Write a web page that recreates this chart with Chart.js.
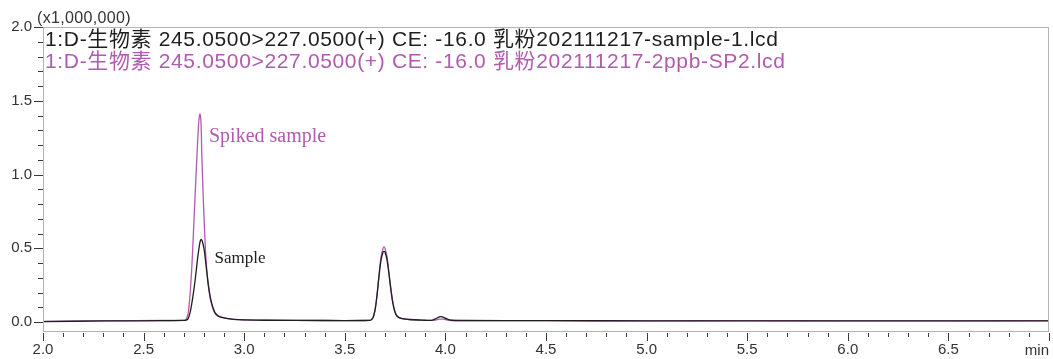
<!DOCTYPE html>
<html>
<head>
<meta charset="utf-8">
<script src="https://cdn.jsdelivr.net/npm/chart.js@4.4.0/dist/chart.umd.min.js"></script>
<style>
  html, body { margin: 0; padding: 0; background: #fff; }
  #wrap { position: relative; width: 1053px; height: 359px; }
</style>
</head>
<body>
<div id="wrap"><canvas id="chrom"></canvas></div>
<script>
// retention time (min) and intensity (x1,000,000)
const sampleTime = [2.00, 2.30, 2.60, 2.70, 2.71, 2.72, 2.73, 2.74, 2.75, 2.76, 2.77, 2.78, 2.785, 2.79, 2.80, 2.81, 2.82, 2.83, 2.84, 2.85, 2.86, 2.88, 2.92, 2.97, 3.10, 3.40, 3.60, 3.62, 3.63, 3.64, 3.65, 3.66, 3.67, 3.68, 3.69, 3.695, 3.70, 3.71, 3.72, 3.73, 3.74, 3.75, 3.76, 3.78, 3.82, 3.88, 3.93, 3.95, 3.97, 3.98, 3.99, 4.01, 4.03, 4.10, 4.50, 5.00, 5.50, 6.00, 6.50, 7.00];
const sampleValue = [0.004, 0.008, 0.010, 0.012, 0.013, 0.020, 0.060, 0.130, 0.220, 0.330, 0.450, 0.540, 0.560, 0.555, 0.500, 0.390, 0.270, 0.180, 0.120, 0.080, 0.055, 0.035, 0.024, 0.017, 0.013, 0.011, 0.011, 0.012, 0.015, 0.030, 0.080, 0.180, 0.310, 0.420, 0.475, 0.480, 0.475, 0.420, 0.320, 0.210, 0.120, 0.065, 0.040, 0.025, 0.018, 0.014, 0.012, 0.022, 0.035, 0.037, 0.033, 0.020, 0.013, 0.011, 0.010, 0.009, 0.009, 0.009, 0.009, 0.009];

const spikedTime = [2.00, 2.30, 2.60, 2.70, 2.71, 2.72, 2.725, 2.73, 2.74, 2.75, 2.76, 2.77, 2.775, 2.78, 2.785, 2.79, 2.80, 2.81, 2.82, 2.83, 2.84, 2.85, 2.86, 2.88, 2.92, 2.97, 3.10, 3.40, 3.60, 3.62, 3.63, 3.64, 3.65, 3.66, 3.67, 3.68, 3.69, 3.695, 3.70, 3.71, 3.72, 3.73, 3.74, 3.75, 3.76, 3.78, 3.82, 3.88, 3.93, 3.95, 3.97, 3.99, 4.01, 4.03, 4.10, 4.50, 5.00, 5.50, 6.00, 6.50, 7.00];
const spikedValue = [0.005, 0.009, 0.011, 0.012, 0.015, 0.050, 0.100, 0.170, 0.380, 0.680, 0.980, 1.260, 1.370, 1.410, 1.360, 1.100, 0.720, 0.430, 0.270, 0.170, 0.110, 0.070, 0.050, 0.035, 0.024, 0.017, 0.013, 0.011, 0.011, 0.012, 0.015, 0.030, 0.080, 0.185, 0.320, 0.440, 0.500, 0.510, 0.500, 0.440, 0.330, 0.215, 0.125, 0.068, 0.042, 0.026, 0.018, 0.014, 0.012, 0.013, 0.020, 0.020, 0.013, 0.011, 0.010, 0.010, 0.009, 0.010, 0.009, 0.009, 0.010];

const xTickLabels = ['2.0', '2.5', '3.0', '3.5', '4.0', '4.5', '5.0', '5.5', '6.0', '6.5'];
const yTickLabels = ['0.0', '0.5', '1.0', '1.5', '2.0'];

const headerLines = [
  { text: '1:D-生物素 245.0500>227.0500(+) CE: -16.0 乳粉202111217-sample-1.lcd', color: '#1e1e1e' },
  { text: '1:D-生物素 245.0500>227.0500(+) CE: -16.0 乳粉202111217-2ppb-SP2.lcd', color: '#b05ab0' }
];
const peakNotes = [
  { text: 'Spiked sample', x: 2.825, y: 1.22, color: '#b05ab0', size: 20 },
  { text: 'Sample', x: 2.853, y: 0.40, color: '#1e1e1e', size: 17 }
];

const SANS = '"Liberation Sans", Arial, "Noto Sans CJK SC", sans-serif';
const SERIF = '"Liberation Serif", "Times New Roman", serif';
const AXIS_GREY = '#b4b4b4';
const TICK_DARK = '#3a3a3a';

function toPoints(xs, ys) {
  return xs.map((x, i) => ({ x, y: ys[i] }));
}

function tenths(from, to) {
  const out = [];
  for (let k = Math.round(from * 10); k <= Math.round(to * 10); k++) out.push({ value: k / 10 });
  return out;
}

const isMajor = (v) => Math.round(v * 10) % 5 === 0;

// frame, tick marks and free text (header, unit, peak labels)
const chromDecor = {
  id: 'chromDecor',
  afterDraw(chart) {
    const { ctx, chartArea: a, scales } = chart;
    ctx.save();
    ctx.strokeStyle = AXIS_GREY;
    ctx.lineWidth = 1;
    ctx.strokeRect(a.left + 0.5, a.top + 0.5, a.right - a.left - 1, a.bottom - a.top);

    ctx.strokeStyle = TICK_DARK;
    ctx.beginPath();
    scales.x.ticks.forEach((t) => {
      const px = Math.round(scales.x.getPixelForValue(t.value)) + 0.5;
      ctx.moveTo(px, a.bottom + 2);
      ctx.lineTo(px, a.bottom + (isMajor(t.value) ? 10 : 6));
    });
    scales.y.ticks.forEach((t) => {
      const py = Math.round(scales.y.getPixelForValue(t.value)) + 0.5;
      ctx.moveTo(a.left, py);
      ctx.lineTo(a.left - (isMajor(t.value) ? 9 : 5), py);
    });
    ctx.stroke();

    ctx.fillStyle = '#333';
    ctx.font = '15px ' + SANS;
    ctx.textAlign = 'right';
    ctx.textBaseline = 'alphabetic';
    ctx.fillText('min', a.right, 355);
    ctx.textAlign = 'left';
    ctx.font = '16px ' + SANS;
    ctx.letterSpacing = '0.35px';
    ctx.fillText('(x1,000,000)', 37, 23);

    ctx.font = '21px ' + SANS;
    ctx.letterSpacing = '0.65px';
    headerLines.forEach((h, i) => {
      ctx.fillStyle = h.color;
      ctx.fillText(h.text, 45, 46 + i * 22);
    });
    ctx.letterSpacing = '0px';

    peakNotes.forEach((n) => {
      ctx.fillStyle = n.color;
      ctx.font = n.size + 'px ' + SERIF;
      ctx.fillText(n.text, scales.x.getPixelForValue(n.x), scales.y.getPixelForValue(n.y));
    });
    ctx.restore();
  }
};

new Chart(document.getElementById('chrom'), {
  type: 'line',
  data: {
    datasets: [
      {
        label: 'Sample',
        data: toPoints(sampleTime, sampleValue),
        borderColor: '#1e1e1e',
        borderWidth: 1.3,
        pointRadius: 0,
        tension: 0.35,
        fill: false
      },
      {
        label: 'Spiked sample',
        data: toPoints(spikedTime, spikedValue),
        borderColor: '#b05ab0',
        borderWidth: 1.3,
        pointRadius: 0,
        tension: 0.35,
        fill: false
      }
    ]
  },
  options: {
    responsive: true,
    maintainAspectRatio: false,
    animation: false,
    layout: { padding: { top: 27, right: 3, left: 0, bottom: 0 } },
    plugins: {
      legend: { display: false },
      tooltip: { enabled: false }
    },
    scales: {
      x: {
        type: 'linear',
        min: 2.0,
        max: 7.0,
        afterBuildTicks: (axis) => { axis.ticks = tenths(2.0, 7.0); },
        afterFit: (axis) => { axis.height = 28; },
        grid: { display: true, drawOnChartArea: false, drawTicks: true, tickLength: 6, tickColor: 'rgba(0,0,0,0)' },
        border: { display: false },
        ticks: {
          autoSkip: false,
          maxRotation: 0,
          padding: 4,
          color: '#333',
          font: { family: SANS, size: 15 },
          callback: (v) => {
            const k = Math.round(v * 10);
            return k % 5 === 0 && k < 70 ? xTickLabels[(k - 20) / 5] : '';
          }
        }
      },
      y: {
        min: -0.06,
        max: 2.0,
        afterBuildTicks: (axis) => { axis.ticks = tenths(0.0, 2.0); },
        afterFit: (axis) => { axis.width = 43; },
        grid: { display: true, drawOnChartArea: false, drawTicks: true, tickLength: 9, tickColor: 'rgba(0,0,0,0)' },
        border: { display: false },
        ticks: {
          autoSkip: false,
          padding: 2,
          color: '#333',
          font: { family: SANS, size: 15 },
          callback: (v) => {
            const k = Math.round(v * 10);
            return k % 5 === 0 ? yTickLabels[k / 5] : '';
          }
        }
      }
    }
  },
  plugins: [chromDecor]
});
</script>
</body>
</html>
